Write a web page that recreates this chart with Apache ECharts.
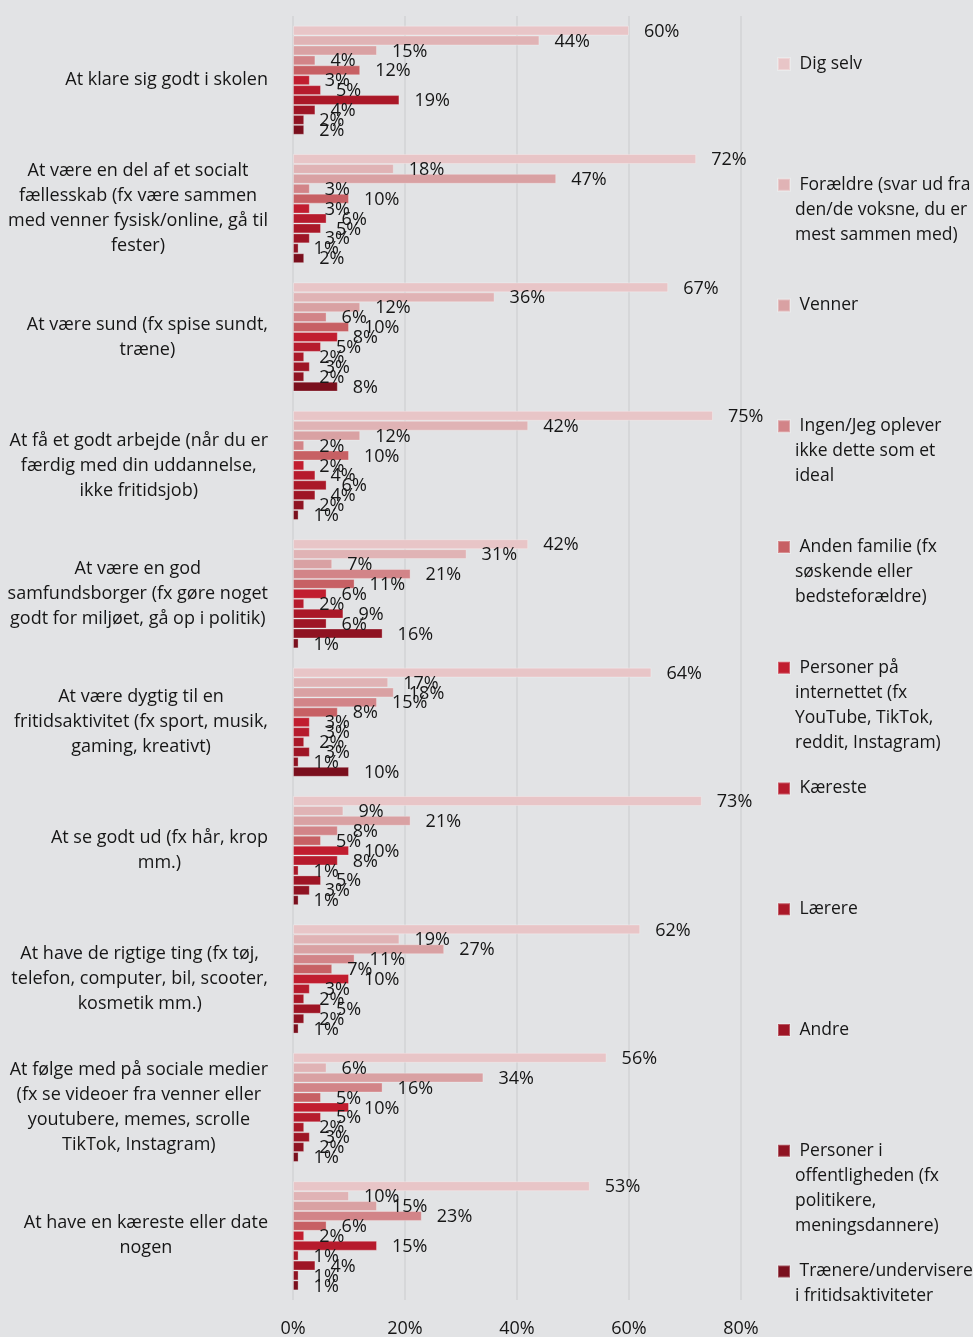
<!DOCTYPE html>
<html>
<head>
<meta charset="utf-8">
<script src="https://cdn.jsdelivr.net/npm/echarts@6/dist/echarts.min.js"></script>
<style>
  html, body { margin: 0; padding: 0; background: #e2e3e5; }
  #chart { width: 973px; height: 1337px; }
</style>
</head>
<body>
<div id="chart"></div>
<script>
// Kategorier (idealer), med linjeskift som de vises på aksen
const categories = [
  'At klare sig godt i skolen',
  'At være en del af et socialt\nfællesskab (fx være sammen\nmed venner fysisk/online, gå til\nfester)',
  'At være sund (fx spise sundt,\ntræne)',
  'At få et godt arbejde (når du er\nfærdig med din uddannelse,\nikke fritidsjob)',
  'At være en god\nsamfundsborger (fx gøre noget\ngodt for miljøet, gå op i politik)',
  'At være dygtig til en\nfritidsaktivitet (fx sport, musik,\ngaming, kreativt)',
  'At se godt ud (fx hår, krop\nmm.)',
  'At have de rigtige ting (fx tøj,\ntelefon, computer, bil, scooter,\nkosmetik mm.)',
  'At følge med på sociale medier\n(fx se videoer fra venner eller\nyoutubere, memes, scrolle\nTikTok, Instagram)',
  'At have en kæreste eller date\nnogen'
];

// Serienavne og deres ombrudte tekst i forklaringen
const seriesNames = [
  'Dig selv',
  'Forældre (svar ud fra den/de voksne, du er mest sammen med)',
  'Venner',
  'Ingen/Jeg oplever ikke dette som et ideal',
  'Anden familie (fx søskende eller bedsteforældre)',
  'Personer på internettet (fx YouTube, TikTok, reddit, Instagram)',
  'Kæreste',
  'Lærere',
  'Andre',
  'Personer i offentligheden (fx politikere, meningsdannere)',
  'Trænere/undervisere i fritidsaktiviteter'
];
const legendLabels = [
  'Dig selv',
  'Forældre (svar ud fra\nden/de voksne, du er\nmest sammen med)',
  'Venner',
  'Ingen/Jeg oplever\nikke dette som et\nideal',
  'Anden familie (fx\nsøskende eller\nbedsteforældre)',
  'Personer på\ninternettet (fx\nYouTube, TikTok,\nreddit, Instagram)',
  'Kæreste',
  'Lærere',
  'Andre',
  'Personer i\noffentligheden (fx\npolitikere,\nmeningsdannere)',
  'Trænere/undervisere\ni fritidsaktiviteter'
];

// Andel (%) pr. kategori for hver kilde
const digSelv      = [60, 72, 67, 75, 42, 64, 73, 62, 56, 53];
const foraeldre    = [44, 18, 36, 42, 31, 17,  9, 19,  6, 10];
const venner       = [15, 47, 12, 12,  7, 18, 21, 27, 34, 15];
const ingen        = [ 4,  3,  6,  2, 21, 15,  8, 11, 16, 23];
const andenFamilie = [12, 10, 10, 10, 11,  8,  5,  7,  5,  6];
const internettet  = [ 3,  3,  8,  2,  6,  3, 10, 10, 10,  2];
const kaereste     = [ 5,  6,  5,  4,  2,  3,  8,  3,  5, 15];
const laerere      = [19,  5,  2,  6,  9,  2,  1,  2,  2,  1];
const andre        = [ 4,  3,  3,  4,  6,  3,  5,  5,  3,  4];
const offentlighed = [ 2,  1,  2,  2, 16,  1,  3,  2,  2,  1];
const traenere     = [ 2,  2,  8,  1,  1, 10,  1,  1,  1,  1];

const seriesValues = [digSelv, foraeldre, venner, ingen, andenFamilie, internettet,
                      kaereste, laerere, andre, offentlighed, traenere];

const xTicks = [0, 20, 40, 60, 80];

const colors = ['#e8c5c7', '#e0b3b5', '#d9a1a3', '#d28488', '#c76064', '#c11d2f',
                '#b61b2d', '#aa1828', '#9e1525', '#8f1322', '#7a0f1d'];

const FONT = '"Open Sans", "Noto Sans", "DejaVu Sans", sans-serif';
const TEXT = '#161616';
const FS = 18;
const LEGEND_FS = 17.5;
const LH = 25;

// Kategoriteksterne er centrerede linje for linje, mens blokken står højrestillet ved aksen.
const measureCtx = document.createElement('canvas').getContext('2d');
measureCtx.font = FS + 'px ' + FONT;
function blockWidth(str) {
  return Math.max.apply(null, str.split('\n').map(function (s) { return measureCtx.measureText(s).width; }));
}
const yData = categories.map(function (c) {
  return { value: c, textStyle: { align: 'center', padding: [0, blockWidth(c), 0, 0] } };
});

const chart = echarts.init(document.getElementById('chart'), null, { renderer: 'canvas' });

// Én forklaring pr. serie; tomme linjer foran teksten lægger firkanten ud for første linje
const legendFirstY = 64;
const legendStep = 120.75;
const legends = seriesNames.map(function (name, i) {
  const n = legendLabels[i].split('\n').length;
  const lead = new Array(n).join(' \n');
  return {
    show: true,
    data: [name],
    left: 777,
    top: legendFirstY + i * legendStep - (2 * n - 1) * LH / 2,
    orient: 'vertical',
    padding: 0,
    itemGap: 0,
    itemWidth: 12,
    itemHeight: 12,
    icon: 'rect',
    formatter: function () { return lead + ' ' + legendLabels[i]; },
    textStyle: { fontFamily: FONT, fontSize: LEGEND_FS, color: TEXT, lineHeight: LH }
  };
});

const option = {
  backgroundColor: '#e2e3e5',
  animation: false,
  textStyle: { fontFamily: FONT },
  legend: legends,
  grid: {
    left: 293, top: 16, width: 448, height: 1284,
    outerBoundsMode: 'none'
  },
  xAxis: {
    type: 'value',
    min: xTicks[0],
    max: xTicks[xTicks.length - 1],
    interval: xTicks[1] - xTicks[0],
    axisLine: { show: false },
    axisTick: { show: false },
    splitLine: { show: true, lineStyle: { color: '#d2d3d5', width: 1.5 } },
    axisLabel: {
      formatter: '{value}%', fontFamily: FONT, fontSize: FS, color: TEXT, margin: 20
    }
  },
  yAxis: {
    type: 'category',
    inverse: true,
    data: yData,
    axisLine: { show: false },
    axisTick: { show: false },
    splitLine: { show: false },
    axisLabel: {
      interval: 0,
      align: 'center',
      margin: 25,
      fontFamily: FONT,
      fontSize: FS,
      lineHeight: LH,
      color: TEXT
    }
  },
  series: seriesNames.map(function (name, i) {
    return {
      name: name,
      type: 'bar',
      data: seriesValues[i],
      barGap: '0%',
      barCategoryGap: '15%',
      itemStyle: { color: colors[i], borderColor: 'rgba(255,255,255,0.28)', borderWidth: 1 },
      label: {
        show: true,
        position: 'right',
        distance: 15,
        offset: [0, 1],
        formatter: '{c}%',
        fontFamily: FONT,
        fontSize: FS,
        color: TEXT
      },
      emphasis: { disabled: true }
    };
  })
};

chart.setOption(option);
</script>
</body>
</html>
